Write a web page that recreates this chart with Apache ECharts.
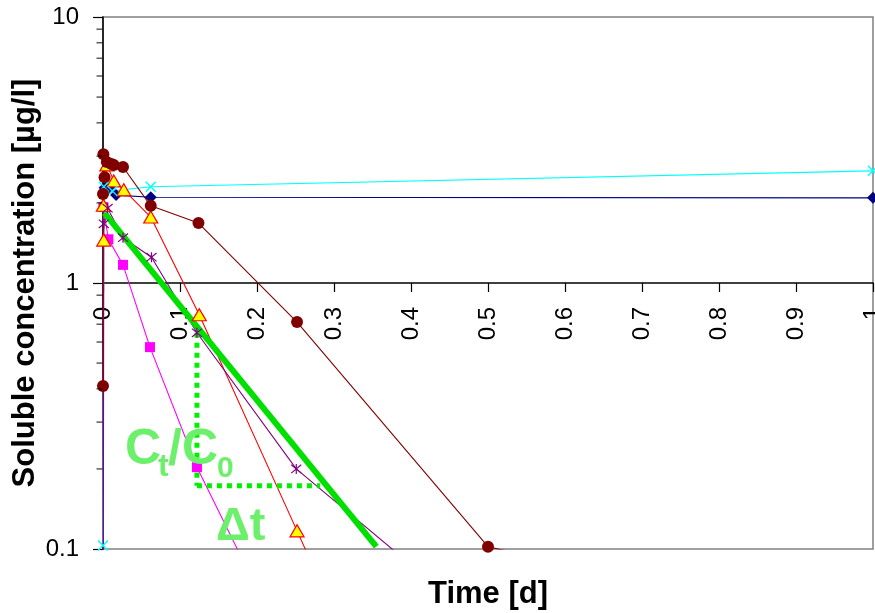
<!DOCTYPE html>
<html>
<head>
<meta charset="utf-8">
<script src="https://cdn.jsdelivr.net/npm/echarts@6/dist/echarts.min.js"></script>
<style>
  html, body { margin: 0; padding: 0; background: #fff; }
  #chart { width: 875px; height: 613px; }
</style>
</head>
<body>
<div id="chart"></div>
<script>
// [time (d), soluble concentration (µg/l)]
const navyDiamond = [[0.002, 2.28], [0.009, 2.28], [0.017, 2.14], [0.062, 2.1], [1, 2.09]];
const magentaSquare = [[0, 0.01], [0.0005, 1.93], [0.007, 1.46], [0.026, 1.17], [0.061, 0.574], [0.122, 0.203], [0.25, 0.036]];
const redTriangle = [[0.001, 1.45], [0.0005, 1.96], [0.005, 2.78], [0.014, 2.42], [0.027, 2.24], [0.062, 1.77], [0.125, 0.76], [0.252, 0.117], [0.5, 0.003]];
const cyanCross = [[0, 0.103], [0.001, 2.3], [0.012, 2.22], [0.062, 2.3], [1, 2.64]];
const purpleStar = [[0, 0.01], [0.001, 1.67], [0.006, 1.91], [0.026, 1.48], [0.063, 1.25], [0.122, 0.65], [0.251, 0.2], [0.5, 0.05]];
const darkRedCircle = [[0, 0.41], [0, 2.16], [0.002, 2.5], [0.0005, 3.05], [0.005, 2.85], [0.011, 2.8], [0.014, 2.78], [0.026, 2.73], [0.062, 1.95], [0.124, 1.68], [0.252, 0.713], [0.5, 0.102], [1, 0.048]];
// fitted first-order decay and the slope triangle
const fitLine = [[0.002, 1.83], [0.355, 0.102]];
const deltaC = [[0.122, 0.65], [0.122, 0.173]];
const deltaT = [[0.122, 0.173], [0.282, 0.173]];

// log minor ticks (2..9 in each decade)
const minorSteps = [2, 3, 4, 5, 6, 7, 8, 9];
const decades = [0.1, 1];
const minorTicks = decades.flatMap(d => minorSteps.map(s => [0, +(d * s).toFixed(2)]));

const FONT = "'Liberation Sans', Arial, sans-serif";

const chart = echarts.init(document.getElementById("chart"));

const lineSeries = (data, color, symbol, size, itemStyle, extra) => Object.assign({
  type: "line",
  data: data,
  symbol: symbol,
  symbolSize: size,
  showSymbol: true,
  lineStyle: { color: color, width: 1.1 },
  itemStyle: itemStyle || { color: color },
  emphasis: { disabled: true },
  animation: false,
}, extra || {});

chart.setOption({
  animation: false,
  grid: {
    left: 103, right: 2, top: 17, bottom: 64,
    containLabel: false,
    outerBoundsMode: "none",
    show: true,
    borderColor: "#808080",
    borderWidth: 1.5,
  },
  xAxis: {
    type: "value",
    min: 0,
    max: 1,
    interval: 0.1,
    position: "bottom",
    offset: -266, // the axis crosses the y axis at 1
    axisLine: { onZero: false, lineStyle: { color: "#000", width: 1.5 } },
    axisTick: { show: true, length: 9, lineStyle: { color: "#000", width: 1.2 } },
    axisLabel: { rotate: 90, margin: 24, fontSize: 24, fontFamily: FONT, color: "#000" },
    splitLine: { show: false },
  },
  yAxis: {
    type: "log",
    logBase: 10,
    min: 0.1,
    max: 10,
    axisLine: { show: true, lineStyle: { color: "#000", width: 1.5 } },
    axisTick: { show: true, length: 10, lineStyle: { color: "#000", width: 1.2 } },
    axisLabel: { margin: 24, fontSize: 24, fontFamily: FONT, color: "#000" },
    splitLine: { show: false },
  },
  graphic: [
    { type: "text", x: 25, y: 283, rotation: Math.PI / 2,
      style: { text: "Soluble concentration [µg/l]", font: "bold 31px " + FONT, fill: "#000", align: "center", verticalAlign: "middle" } },
    { type: "text", x: 488, y: 594,
      style: { text: "Time [d]", font: "bold 31px " + FONT, fill: "#000", align: "center", verticalAlign: "middle" } },
    { type: "text", x: 125, y: 450, z: 100,
      style: { text: "C", font: "bold 50px " + FONT, fill: "#6CF06C", align: "left", verticalAlign: "middle" } },
    { type: "text", x: 158, y: 467, z: 100,
      style: { text: "t", font: "bold 32px " + FONT, fill: "#6CF06C", align: "left", verticalAlign: "middle" } },
    { type: "text", x: 168, y: 450, z: 100,
      style: { text: "/C", font: "bold 50px " + FONT, fill: "#6CF06C", align: "left", verticalAlign: "middle" } },
    { type: "text", x: 217, y: 469, z: 100,
      style: { text: "0", font: "bold 30px " + FONT, fill: "#6CF06C", align: "left", verticalAlign: "middle" } },
    { type: "text", x: 216, y: 527, z: 100,
      style: { text: "Δt", font: "bold 47px " + FONT, fill: "#6CF06C", align: "left", verticalAlign: "middle" } },
  ],
  series: [
    {
      type: "scatter",
      data: minorTicks,
      symbol: "rect",
      symbolSize: [6, 1.2],
      symbolOffset: [-3.5, 0],
      itemStyle: { color: "#000" },
      clip: false,
      silent: true,
      z: 5,
    },
    lineSeries(navyDiamond, "#000080", "path://M5,0L10,5L5,10L0,5Z", 12),
    lineSeries(magentaSquare, "#FF00FF", "rect", 10),
    lineSeries(redTriangle, "#FF0000", "triangle", [14, 12],
      { color: "#FFFF00", borderColor: "#FF0000", borderWidth: 1.2 }),
    lineSeries(cyanCross, "#00FFFF", "path://M0,0L10,10M10,0L0,10", 10,
      { color: "#00FFFF", borderColor: "#00FFFF", borderWidth: 1.4 }),
    lineSeries(purpleStar, "#800080", "path://M0,0L10,10M10,0L0,10M5,-1L5,11", 10,
      { color: "#800080", borderColor: "#800080", borderWidth: 1.2 }),
    lineSeries(darkRedCircle, "#800000", "circle", 12),
    lineSeries(fitLine, "#00E000", "none", 0, null, { lineStyle: { color: "#00E000", width: 6 } }),
    lineSeries(deltaC, "#00F000", "none", 0, null, { lineStyle: { color: "#00F000", width: 5, type: [5, 5] } }),
    lineSeries(deltaT, "#00F000", "none", 0, null, { lineStyle: { color: "#00F000", width: 5, type: [5, 5] } }),
  ],
});
</script>
</body>
</html>
